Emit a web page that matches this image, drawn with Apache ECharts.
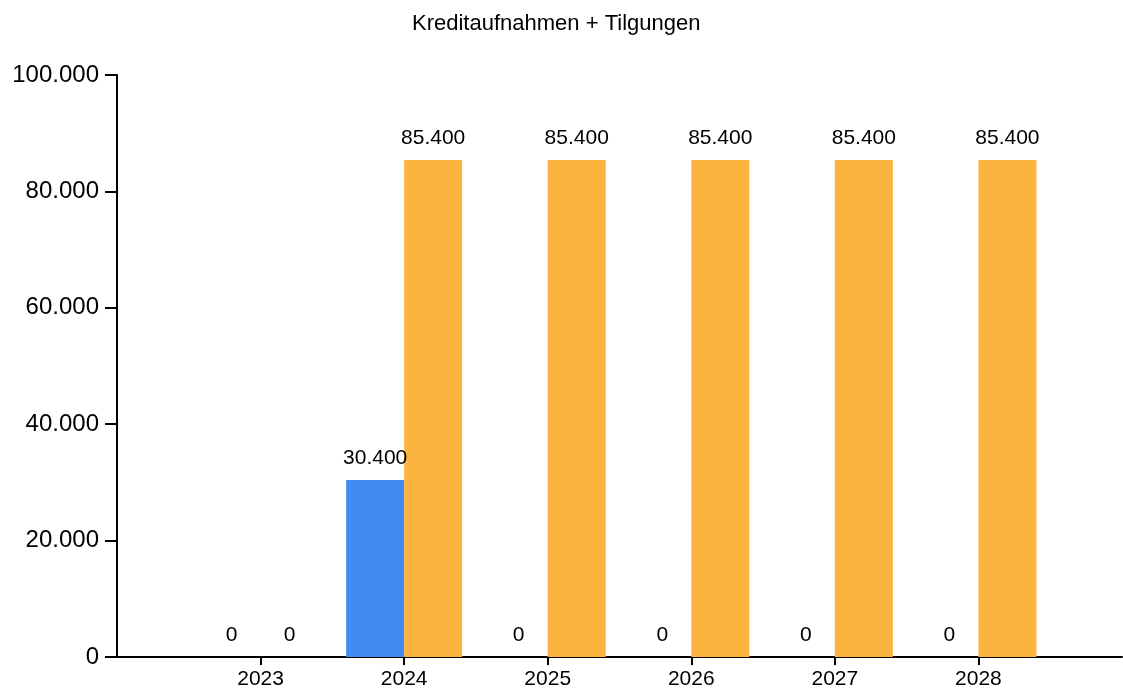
<!DOCTYPE html>
<html><head><meta charset="utf-8">
<script src="https://cdn.jsdelivr.net/npm/echarts@6/dist/echarts.min.js"></script>
<style>html,body{margin:0;padding:0;background:#fff}#c{width:1123px;height:695px}</style>
</head><body><div id="c"></div>
<script>
const years = ['2023','2024','2025','2026','2027','2028'];
const kreditaufnahmen = [0, 30400, 0, 0, 0, 0];
const tilgungen = [0, 85400, 85400, 85400, 85400, 85400];
const yTicks = [0, 20000, 40000, 60000, 80000, 100000];

const cats = [''].concat(years, ['']);
const pad = a => [null].concat(a, [null]);
const fmt = v => String(v).replace(/\B(?=(\d{3})+(?!\d))/g, '.');
const font = '"Liberation Sans", Arial, sans-serif';
const lbl = {show:true, position:'top', distance:11, color:'#000', fontSize:21, fontFamily:font,
  formatter: p => fmt(p.value)};

const chart = echarts.init(document.getElementById('c'), null, {renderer:'canvas'});
chart.setOption({
  animation:false,
  title:{text:'Kreditaufnahmen + Tilgungen', left:407, top:8,
    textStyle:{fontFamily:font, fontWeight:'normal', fontSize:22, color:'#000'}},
  grid:{left:117, right:1, top:75, bottom:38},
  xAxis:{type:'category', data:cats, boundaryGap:false,
    axisLine:{lineStyle:{color:'#000', width:2}},
    axisTick:{length:8, lineStyle:{color:'#000', width:2}, interval:(i)=> i>0 && i<cats.length-1},
    axisLabel:{color:'#000', fontSize:21, fontFamily:font, margin:12, interval:(i)=> i>0 && i<cats.length-1}},
  yAxis:{type:'value', min:yTicks[0], max:yTicks[yTicks.length-1], interval:yTicks[1]-yTicks[0],
    splitLine:{show:false},
    axisLine:{show:true, lineStyle:{color:'#000', width:2}},
    axisTick:{show:true, length:12, lineStyle:{color:'#000', width:2}},
    axisLabel:{color:'#000', fontSize:24, fontFamily:font, margin:18, formatter:v=>fmt(v)}},
  series:[
    {name:'Kreditaufnahmen', type:'bar', data:pad(kreditaufnahmen), barWidth:58, barGap:'0%',
      itemStyle:{color:'#418CF0'}, label:lbl},
    {name:'Tilgungen', type:'bar', data:pad(tilgungen), barWidth:58, barGap:'0%',
      itemStyle:{color:'#FCB441'}, label:lbl}
  ]
});
</script></body></html>
